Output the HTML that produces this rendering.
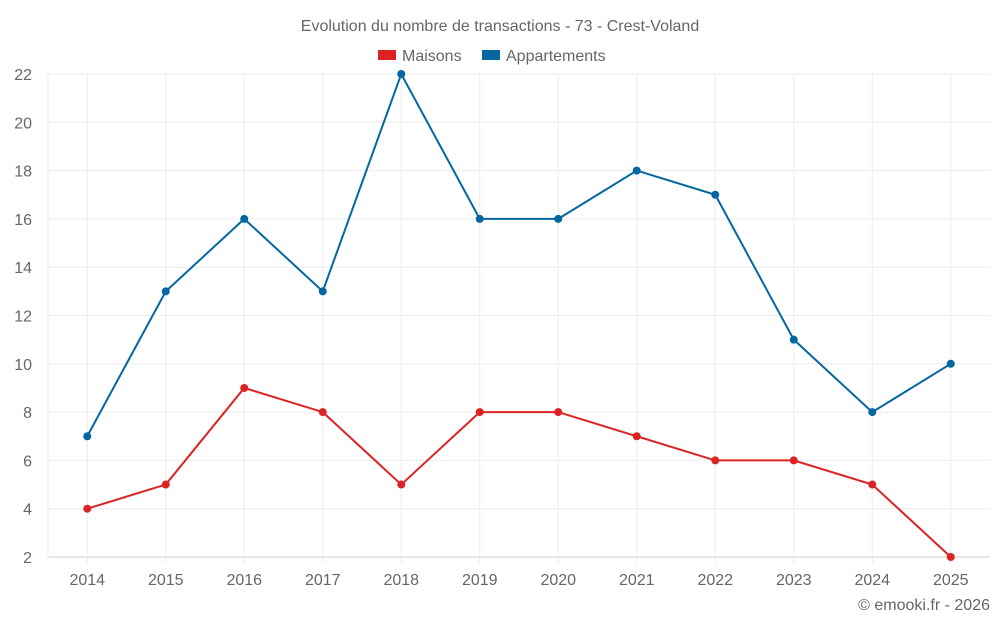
<!DOCTYPE html>
<html><head><meta charset="utf-8"><style>
body{margin:0;background:#fff;font-family:"Liberation Sans",sans-serif}
svg text{font-family:"Liberation Sans",sans-serif;fill:#666}
</style></head><body>
<svg id="c" width="1000" height="625">
<text x="500" y="31" text-anchor="middle" font-size="16">Evolution du nombre de transactions - 73 - Crest-Voland</text>
<g>
<g><rect x="378" y="50" width="18" height="10" fill="#dc2323"/><text x="402" y="61" font-size="16">Maisons</text></g>
<g><rect x="482" y="50" width="18" height="10" fill="#0567a1"/><text x="506" y="61" font-size="16">Appartements</text></g>
</g>
<g id="grid"></g><g id="axes"></g><g id="series"></g>
<text x="990" y="610" text-anchor="end" font-size="16">© emooki.fr - 2026</text>
</svg>
<script>
const years=[2014,2015,2016,2017,2018,2019,2020,2021,2022,2023,2024,2025];
const maisons=[4,5,9,8,5,8,8,7,6,6,5,2];
const appartements=[7,13,16,13,22,16,16,18,17,11,8,10];
const yTicks=[2,4,6,8,10,12,14,16,18,20,22];
const L=48,R=990,T=74,B=557,yMin=2,yMax=22;
const NS="http://www.w3.org/2000/svg";
const bw=(R-L)/years.length;
const x=i=>L+bw*(i+0.5);
const y=v=>B-(v-yMin)/(yMax-yMin)*(B-T);
function mk(tag,attrs,parent){const e=document.createElementNS(NS,tag);for(const k in attrs)e.setAttribute(k,attrs[k]);parent.appendChild(e);return e;}
const grid=document.getElementById('grid'),axes=document.getElementById('axes'),ser=document.getElementById('series');
yTicks.forEach(t=>{
 const l=mk('line',{x1:L,x2:R,y1:y(t),y2:y(t),stroke:t===yMin?'#ccc':'#ececec'},grid);
 
 
 const tx=mk('text',{x:L-16,y:y(t)+6,'text-anchor':'end','font-size':16},axes);tx.textContent=t;
 
 
});
years.forEach((yr,i)=>{
 const l=mk('line',{x1:x(i),x2:x(i),y1:T,y2:B+6,stroke:'#ececec'},grid);
 
 
 const tx=mk('text',{x:x(i),y:585,'text-anchor':'middle','font-size':16},axes);tx.textContent=yr;
 
 
});
const yl=mk('line',{x1:L,x2:L,y1:T,y2:B,stroke:'#ececec'},grid);


function draw(data,color,name){
 const p=mk('polyline',{points:data.map((v,i)=>x(i)+','+y(v)).join(' '),fill:'none',stroke:color,'stroke-width':2},ser);
 
 
 data.forEach((v,i)=>{
  const c=mk('circle',{cx:x(i),cy:y(v),r:4,fill:color},ser);
  
  
 });
}
draw(maisons,'#dc2323','maisons');
draw(appartements,'#0567a1','appartements');
</script>
</body></html>
